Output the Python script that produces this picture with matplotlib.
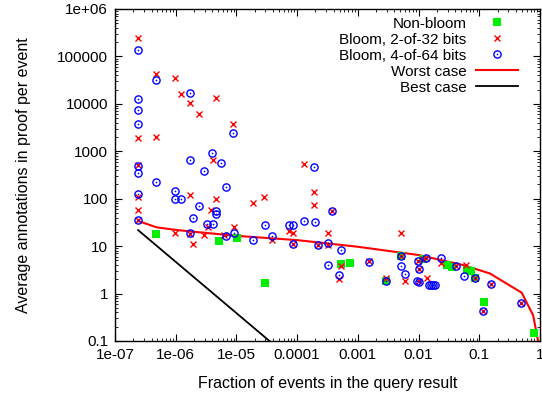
import matplotlib
matplotlib.use('Agg')
import matplotlib.pyplot as plt
from matplotlib.ticker import FixedLocator, FixedFormatter, LogLocator, NullFormatter
from matplotlib.legend_handler import HandlerTuple

plt.rcParams['font.family'] = ['Liberation Sans', 'DejaVu Sans']

# ---- data ----
nonbloom_x = [4.8e-7, 5.1e-6, 1.02e-5, 2.9e-5, 5.2e-4, 7.4e-4, 2.9e-3, 5.2e-3,
              1.2e-2, 2.9e-2, 3.5e-2, 6.3e-2, 7.4e-2, 8.6e-2, 0.12, 0.79]
nonbloom_y = [17.9, 12.6, 15, 1.7, 4.2, 4.5, 1.8, 6.2,
              5.3, 4.0, 3.6, 3.1, 3.0, 2.1, 0.65, 0.144]

bloom2_x = [2.4e-7, 2.4e-7, 2.4e-7, 2.4e-7, 2.4e-7, 2.4e-7,
            4.8e-7, 4.8e-7, 9.7e-7, 9.7e-7, 1.2e-6,
            1.7e-6, 1.7e-6, 1.7e-6, 1.9e-6, 2.4e-6, 2.9e-6, 3.4e-6, 3.8e-6,
            4.1e-6, 4.6e-6, 4.6e-6, 6.2e-6, 8.75e-6, 9.2e-6,
            1.85e-5, 2.8e-5, 3.8e-5, 7.4e-5, 8.4e-5, 8.4e-5,
            1.3e-4, 1.9e-4, 1.9e-4, 2.2e-4, 3.2e-4, 3.2e-4, 3.8e-4,
            4.8e-4, 5.2e-4, 1.5e-3, 2.9e-3, 5.2e-3, 5.2e-3, 6e-3,
            9.7e-3, 1e-2, 1e-2, 1.2e-2, 1.35e-2, 1.4e-2, 2.3e-2,
            4.1e-2, 6e-2, 8.6e-2, 0.114, 0.154, 0.48]
bloom2_y = [2.5e5, 1900, 510, 110, 57, 36,
            4.2e4, 2000, 3.45e4, 19, 1.6e4,
            1.04e4, 118, 18, 11, 6200, 16.8, 25.5, 57,
            670, 1.3e4, 100, 17, 3800, 24.8,
            82, 110, 13.8, 20.7, 19.2, 11,
            540, 136, 74, 10.5, 19.2, 10.5, 55,
            2.0, 3.8, 4.8, 2.1, 19.2, 6.2, 1.83,
            4.9, 3.3, 1.8, 5.3, 5.6, 2.1, 4.4,
            3.8, 4.1, 2.1, 0.43, 1.58, 0.62]

bloom4_x = [2.4e-7, 2.4e-7, 2.4e-7, 2.4e-7, 2.4e-7, 2.4e-7, 2.4e-7, 2.4e-7,
            4.8e-7, 4.8e-7, 9.7e-7, 9.7e-7, 1.2e-6,
            1.7e-6, 1.7e-6, 1.7e-6, 1.95e-6, 2.4e-6, 2.9e-6, 3.3e-6, 4.1e-6,
            3.9e-6, 4.6e-6, 4.6e-6, 5.5e-6, 6.7e-6, 6.7e-6, 8.75e-6, 9.2e-6,
            1.9e-5, 2.9e-5, 3.8e-5, 7.4e-5, 8.4e-5, 8.4e-5,
            1.3e-4, 1.9e-4, 2e-4, 2.2e-4, 3.2e-4, 3.2e-4, 3.8e-4,
            4.8e-4, 5.2e-4, 1.5e-3, 2.9e-3, 5.2e-3, 5.2e-3, 6e-3,
            9.7e-3, 1e-2, 9.5e-3, 1e-2, 1.35e-2,
            1.5e-2, 1.6e-2, 1.7e-2, 1.9e-2, 2.3e-2, 4.1e-2, 5.6e-2,
            8.6e-2, 0.114, 0.154, 0.48]
bloom4_y = [1.35e5, 1.28e4, 7300, 3700, 500, 350, 125, 35.4,
            3.2e4, 220, 145, 97, 100,
            1.66e4, 670, 18.5, 40, 70, 390, 30, 30,
            930, 55, 47, 570, 178, 16.5, 2450, 18.5,
            13.8, 28, 16.5, 27.7, 27.7, 11,
            33.6, 465, 33, 10.5, 11.7, 4.1, 55,
            2.45, 8.1, 4.6, 1.8, 6.2, 3.8, 2.6,
            4.9, 3.3, 1.8, 1.75, 5.6,
            1.5, 1.5, 1.5, 1.5, 5.7, 3.8, 2.36,
            2.1, 0.43, 1.58, 0.62]

worst_x = [2.4e-7, 4.8e-7, 1e-6, 1.7e-6, 1e-5, 1e-4, 1e-3, 1e-2, 5.4e-2,
           0.15, 0.5, 0.77, 0.93]
worst_y = [34, 25, 22, 20.5, 16.5, 13.4, 9.7, 6.5, 4.0,
           2.65, 1.04, 0.35, 0.1]

best_x = [2.4e-7, 3.5e-5]
best_y = [21.8, 0.1]

xtick_vals = [1e-7, 1e-6, 1e-5, 1e-4, 1e-3, 1e-2, 1e-1, 1]
xtick_labels = ['1e-07', '1e-06', '1e-05', '0.0001', '0.001', '0.01', '0.1', '1']
ytick_vals = [0.1, 1, 10, 100, 1000, 10000, 100000, 1e6]
ytick_labels = ['0.1', '1', '10', '100', '1000', '10000', '100000', '1e+06']

# ---- figure ----
fig = plt.figure(figsize=(5.42, 3.94), dpi=100)
ax = fig.add_axes([115/542, 53/394, 425/542, 332/394])
ax.set_xscale('log')
ax.set_yscale('log')
ax.set_xlim(1e-7, 1)
ax.set_ylim(0.1, 1e6)

green = '#00ee00'
h_nb, = ax.plot(nonbloom_x, nonbloom_y, linestyle='none', marker='s',
                markersize=5.2, color=green, markeredgewidth=0, zorder=3)
h_b2, = ax.plot(bloom2_x, bloom2_y, linestyle='none', marker='x',
                markersize=4.5, color='#ff0000', markeredgewidth=1.0, zorder=4)
h_b4c, = ax.plot(bloom4_x, bloom4_y, linestyle='none', marker='o',
                 markersize=5.2, markerfacecolor='none', markeredgecolor='#0000ff',
                 markeredgewidth=1.0, zorder=5)
h_b4d, = ax.plot(bloom4_x, bloom4_y, linestyle='none', marker='o',
                 markersize=1.2, color='#0000ff', markeredgewidth=0, zorder=5)
h_w, = ax.plot(worst_x, worst_y, color='#ff0000', linewidth=1.5, zorder=2)
h_b, = ax.plot(best_x, best_y, color='black', linewidth=1.3, zorder=2)

ax.xaxis.set_major_locator(FixedLocator(xtick_vals))
ax.xaxis.set_major_formatter(FixedFormatter(xtick_labels))
ax.yaxis.set_major_locator(FixedLocator(ytick_vals))
ax.yaxis.set_major_formatter(FixedFormatter(ytick_labels))
ax.xaxis.set_minor_locator(LogLocator(base=10, subs=range(2, 10), numticks=20))
ax.yaxis.set_minor_locator(LogLocator(base=10, subs=range(2, 10), numticks=20))
ax.xaxis.set_minor_formatter(NullFormatter())
ax.yaxis.set_minor_formatter(NullFormatter())

ax.tick_params(which='both', direction='in', top=True, right=True,
               labelsize=11, colors='black')
ax.tick_params(which='major', length=5, width=0.8)
ax.tick_params(which='minor', length=2.5, width=0.6)
ax.tick_params(axis='x', which='major', pad=5)
ax.tick_params(axis='y', which='major', pad=5)
for s in ax.spines.values():
    s.set_linewidth(1.0)

ax.set_xlabel('Fraction of events in the query result', fontsize=11.5, labelpad=10)
ax.set_ylabel('Average annotations in proof per event', fontsize=11.5, labelpad=19)

leg = ax.legend([h_nb, h_b2, (h_b4c, h_b4d), h_w, h_b],
                ['Non-bloom', 'Bloom, 2-of-32 bits', 'Bloom, 4-of-64 bits',
                 'Worst case', 'Best case'],
                handler_map={tuple: HandlerTuple(ndivide=1, pad=0)},
                loc='upper right', bbox_to_anchor=(0.958, 0.988),
                borderaxespad=0.0, borderpad=0.25, frameon=False,
                markerfirst=False, fontsize=11, labelspacing=0.13,
                handlelength=2.8, handletextpad=0.6, numpoints=1)

fig.savefig('out.png', dpi=100)
